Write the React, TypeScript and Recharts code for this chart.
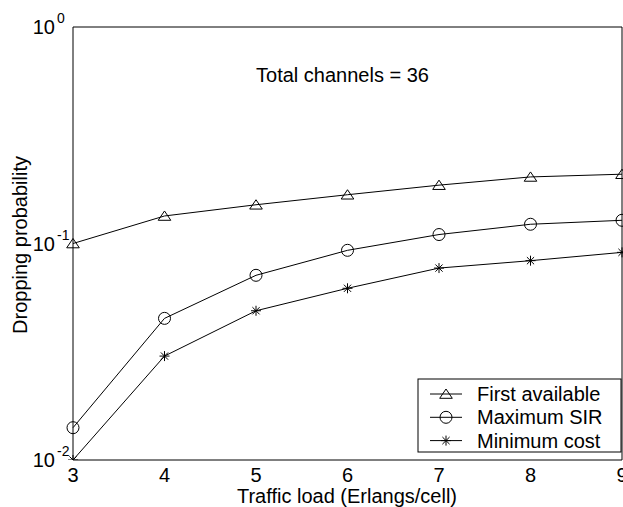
import React from "react";
import { LineChart, Line, XAxis, YAxis } from "recharts";

const loads = [3, 4, 5, 6, 7, 8, 9];
const firstAvailable = [0.1, 0.134, 0.151, 0.168, 0.186, 0.203, 0.209];
const maximumSir = [0.0141, 0.0451, 0.0713, 0.093, 0.11, 0.1227, 0.128];
const minimumCost = [0.01, 0.0302, 0.0489, 0.0621, 0.077, 0.0833, 0.091];

const xTicks = [3, 4, 5, 6, 7, 8, 9];
const yMajorTicks = [0.01, 0.1, 1];
const yMinorTicks = [
  0.02, 0.03, 0.04, 0.05, 0.06, 0.07, 0.08, 0.09,
  0.2, 0.3, 0.4, 0.5, 0.6, 0.7, 0.8, 0.9,
];

const seriesNames = ["First available", "Maximum SIR", "Minimum cost"];
const title = "Total channels = 36";
const xLabel = "Traffic load (Erlangs/cell)";
const yLabel = "Dropping probability";

const data = loads.map((load, i) => ({
  load,
  first: firstAvailable[i],
  sir: maximumSir[i],
  cost: minimumCost[i],
}));

const FONT = "'Liberation Sans', Arial, sans-serif";

const Triangle = ({ cx, cy }: { cx: number; cy: number }) => (
  <polygon
    points={`${cx},${cy - 5} ${cx - 6.3},${cy + 4.3} ${cx + 6.3},${cy + 4.3}`}
    fill="none"
    stroke="#000"
    strokeWidth={1}
  />
);

const Circle = ({ cx, cy }: { cx: number; cy: number }) => (
  <circle cx={cx} cy={cy} r={6} fill="none" stroke="#000" strokeWidth={1} />
);

const Star = ({ cx, cy }: { cx: number; cy: number }) => (
  <path
    d={`M${cx - 5},${cy}H${cx + 5}M${cx},${cy - 5}V${cy + 5}M${cx - 3.6},${cy - 3.6}L${cx + 3.6},${cy + 3.6}M${cx - 3.6},${cy + 3.6}L${cx + 3.6},${cy - 3.6}`}
    fill="none"
    stroke="#000"
    strokeWidth={1}
  />
);

const markers = [Triangle, Circle, Star];

const dotFor = (Shape: typeof Triangle) => (props: any) => {
  const { cx, cy, index } = props;
  if (cx == null || cy == null) return <g key={index} />;
  return <Shape key={index} cx={cx} cy={cy} />;
};

const XTick = ({ x, y, payload }: any) => (
  <text x={x} y={y + 22} textAnchor="middle" fontSize={20} fontFamily={FONT} fill="#000">
    {payload.value}
  </text>
);

const YTick = ({ x, y, payload }: any) => {
  const exp = Math.round(Math.log10(payload.value));
  return (
    <g fontFamily={FONT} fill="#000">
      <text x={x - 18} y={y + 7} textAnchor="end" fontSize={20}>
        10
      </text>
      <text x={x - 16} y={y - 4} fontSize={14}>
        {exp}
      </text>
    </g>
  );
};

function LegendBox() {
  const left = 418;
  const top = 379;
  return (
    <g fontFamily={FONT}>
      <rect x={left} y={top} width={203} height={73} fill="#fff" stroke="#000" strokeWidth={1} />
      {seriesNames.map((name, i) => {
        const cy = top + 15 + i * 23.3;
        const Shape = markers[i];
        return (
          <g key={name}>
            <line x1={430} x2={462} y1={cy} y2={cy} stroke="#000" strokeWidth={1} />
            <Shape cx={446} cy={cy} />
            <text x={477} y={cy + 7} fontSize={20} fill="#000">
              {name}
            </text>
          </g>
        );
      })}
    </g>
  );
}

// mirrored axes only carry the inward tick marks (and the top / right box edges)
const tickAxisProps = {
  type: "number" as const,
  mirror: true,
  tick: false,
  tickLine: { stroke: "#000" },
  interval: 0 as const,
};

export default function App() {
  return (
    <div style={{ position: "absolute", left: 0, top: 0 }}>
      <LineChart
        width={623}
        height={507}
        data={data}
        margin={{ top: 27, right: 1, bottom: 0, left: 0 }}
      >
        <XAxis
          xAxisId="x"
          dataKey="load"
          type="number"
          domain={[3, 9]}
          ticks={xTicks}
          height={47}
          tickSize={0}
          tickMargin={0}
          tickLine={false}
          axisLine={{ stroke: "#000", strokeWidth: 1 }}
          tick={<XTick />}
          interval={0}
        />
        <YAxis
          yAxisId="y"
          scale="log"
          type="number"
          domain={[0.01, 1]}
          ticks={yMajorTicks}
          allowDataOverflow
          width={73}
          tickSize={0}
          tickMargin={0}
          tickLine={false}
          axisLine={{ stroke: "#000", strokeWidth: 1 }}
          tick={<YTick />}
          interval={0}
        />

        <XAxis {...tickAxisProps} xAxisId="xb" domain={[3, 9]} ticks={xTicks} orientation="bottom"
          height={1} axisLine={false} tickSize={5} />
        <XAxis {...tickAxisProps} xAxisId="xt" domain={[3, 9]} ticks={xTicks} orientation="top"
          height={1} axisLine={{ stroke: "#000" }} tickSize={5} />
        <YAxis {...tickAxisProps} yAxisId="yl" scale="log" domain={[0.01, 1]} ticks={yMajorTicks}
          allowDataOverflow orientation="left" width={1} axisLine={false} tickSize={5} />
        <YAxis {...tickAxisProps} yAxisId="ylm" scale="log" domain={[0.01, 1]} ticks={yMinorTicks}
          allowDataOverflow orientation="left" width={1} axisLine={false} tickSize={3.5} />
        <YAxis {...tickAxisProps} yAxisId="yr" scale="log" domain={[0.01, 1]} ticks={yMajorTicks}
          allowDataOverflow orientation="right" width={1} axisLine={{ stroke: "#000" }} tickSize={5} />
        <YAxis {...tickAxisProps} yAxisId="yrm" scale="log" domain={[0.01, 1]} ticks={yMinorTicks}
          allowDataOverflow orientation="right" width={1} axisLine={false} tickSize={3.5} />

        <Line xAxisId="x" yAxisId="y" dataKey="first" name={seriesNames[0]} type="linear" stroke="#000"
          strokeWidth={1} dot={dotFor(Triangle)} activeDot={false} isAnimationActive={false} />
        <Line xAxisId="x" yAxisId="y" dataKey="sir" name={seriesNames[1]} type="linear" stroke="#000"
          strokeWidth={1} dot={dotFor(Circle)} activeDot={false} isAnimationActive={false} />
        <Line xAxisId="x" yAxisId="y" dataKey="cost" name={seriesNames[2]} type="linear" stroke="#000"
          strokeWidth={1} dot={dotFor(Star)} activeDot={false} isAnimationActive={false} />

        <text x={342.5} y={82} textAnchor="middle" fontSize={20} fontFamily={FONT} fill="#000">
          {title}
        </text>
        <text x={347} y={503} textAnchor="middle" fontSize={20} fontFamily={FONT} fill="#000">
          {xLabel}
        </text>
        <text x={27} y={245} textAnchor="middle" fontSize={20} fontFamily={FONT} fill="#000"
          transform="rotate(-90, 27, 245)">
          {yLabel}
        </text>
        <LegendBox />
      </LineChart>
    </div>
  );
}
